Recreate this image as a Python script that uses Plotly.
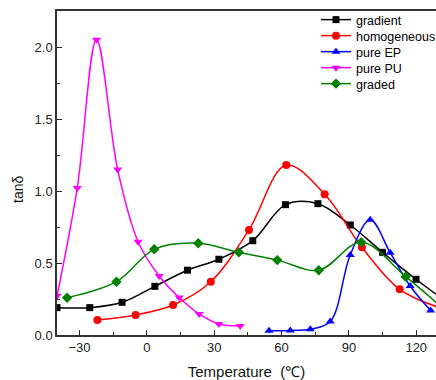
import plotly.graph_objects as go

# ---- data ----
grad_x = [-40, -25.4, -11, 3.6, 18.1, 32.1, 47.2, 61.8, 76.2, 90.6, 105, 119.9, 134.4]
grad_y = [0.19, 0.19, 0.227, 0.338, 0.45, 0.526, 0.655, 0.905, 0.912, 0.764, 0.574, 0.387, 0.22]

homo_x = [-22, -5, 11.7, 28.5, 45.5, 62.1, 79.2, 95.8, 112.6, 130.5]
homo_y = [0.104, 0.139, 0.208, 0.37, 0.73, 1.18, 0.977, 0.609, 0.317, 0.19]

ep_x = [54.4, 63.9, 72.8, 81.7, 90.6, 99.5, 108.4, 117.3, 126.4]
ep_y = [0.03, 0.032, 0.04, 0.093, 0.556, 0.80, 0.572, 0.34, 0.17]

pu_x = [-40, -31, -22.4, -13, -3.9, 5.5, 14.4, 23.3, 32.1, 41.6]
pu_y = [0.27, 1.02, 2.05, 1.15, 0.648, 0.41, 0.26, 0.146, 0.076, 0.063]

graded_x = [-35.5, -13.5, 3.3, 22.9, 41, 58.1, 76.6, 95.5, 115.3, 134.6]
graded_y = [0.259, 0.37, 0.595, 0.637, 0.574, 0.52, 0.45, 0.644, 0.405, 0.15]

names = ["gradient", "homogeneous", "pure EP", "pure PU", "graded"]
colors = ["#000000", "#ff0000", "#0000ff", "#ff00ff", "#008000"]
symbols = ["square", "circle", "triangle-up", "triangle-down", "diamond"]
sizes = [7, 8, 8, 8, 8]
series = [(grad_x, grad_y), (homo_x, homo_y), (ep_x, ep_y), (pu_x, pu_y), (graded_x, graded_y)]

x_title = "Temperature\u00a0 (\u2103)"
y_title = "tan\u03b4"

# pixel geometry
W, H = 436, 380
L, R, T, B = 57, 0, 11, 45
plot_h = H - T - B
plot_w = W - L - R

legend_rows_px = [20, 36, 52, 68, 84]
legend_left_px = 316

fig = go.Figure()
layout_legends = {}
for i, ((xs, ys), nm, c, sym, sz) in enumerate(zip(series, names, colors, symbols, sizes)):
    lname = "legend" if i == 0 else f"legend{i+1}"
    fig.add_trace(go.Scatter(
        x=xs, y=ys, name=nm, mode="lines+markers",
        line=dict(color=c, width=1.5, shape="spline", smoothing=1.0),
        marker=dict(symbol=sym, size=sz, color=c),
        legend=lname,
    ))
    layout_legends[lname] = dict(
        x=(legend_left_px - L) / plot_w,
        y=(H - B - legend_rows_px[i]) / plot_h,
        xanchor="left", yanchor="middle",
        bgcolor="rgba(0,0,0,0)", borderwidth=0,
        font=dict(family="Arial, Liberation Sans, sans-serif", size=12.5, color="#000"),
        itemwidth=30,
    )

axis_font = dict(family="Arial, Liberation Sans, sans-serif", size=13, color="#222")

fig.update_layout(
    width=W, height=H,
    margin=dict(l=L, r=R, t=T, b=B, pad=0, autoexpand=False),
    paper_bgcolor="white", plot_bgcolor="white",
    showlegend=True,
    xaxis=dict(
        range=[-40, 128.8], tick0=0, dtick=30,
        ticks="inside", ticklen=5, tickwidth=1.2, tickcolor="#222",
        minor=dict(ticks="inside", ticklen=3, dtick=15, tick0=0, tickcolor="#222", tickwidth=1.2),
        showline=True, linecolor="#333", linewidth=1.5, mirror=True,
        showgrid=False, zeroline=False,
        tickfont=axis_font,
        title=dict(text=x_title, font=dict(family="Arial, Liberation Sans, sans-serif", size=15, color="#111"), standoff=12),
    ),
    yaxis=dict(
        range=[0, 2.25], tick0=0, dtick=0.5, tickformat=".1f",
        ticks="inside", ticklen=5, tickwidth=1.2, tickcolor="#222",
        minor=dict(ticks="inside", ticklen=3, dtick=0.25, tick0=0, tickcolor="#222", tickwidth=1.2),
        showline=True, linecolor="#333", linewidth=1.5, mirror=False,
        showgrid=False, zeroline=False,
        tickfont=axis_font,
    ),
    annotations=[dict(
        text=y_title, textangle=-90, showarrow=False,
        xref="paper", yref="paper",
        x=(18 - L) / plot_w, y=(H - B - 190) / plot_h,
        xanchor="center", yanchor="middle",
        font=dict(family="Arial, Liberation Sans, sans-serif", size=14, color="#111"),
    )],
    **layout_legends,
)

fig.write_html("out.html")
